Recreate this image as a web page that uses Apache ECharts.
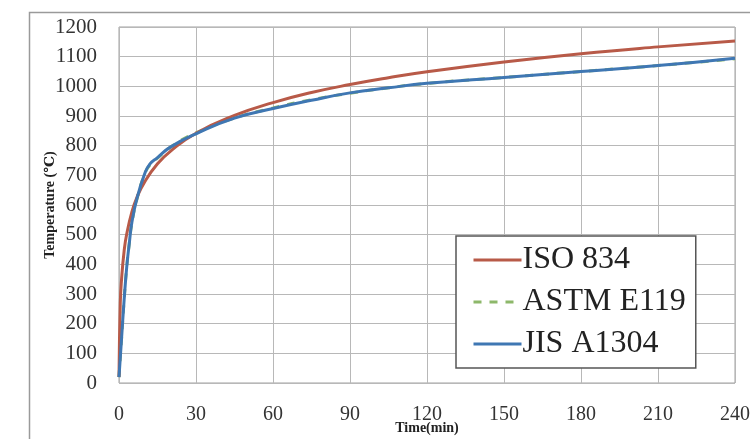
<!DOCTYPE html>
<html><head><meta charset="utf-8">
<script src="https://cdn.jsdelivr.net/npm/echarts@6/dist/echarts.min.js"></script>
<style>html,body{margin:0;padding:0;background:#fff}#c{width:750px;height:439px}</style>
</head><body><div id="c"></div>
<script>
const seriesNames = ['ISO 834', 'ASTM E119', 'JIS A1304'];
const xTicks = [0, 30, 60, 90, 120, 150, 180, 210, 240];
const yTicks = [0, 100, 200, 300, 400, 500, 600, 700, 800, 900, 1000, 1100, 1200];
// time (min), temperature (°C)
const isoTime = [0, 0.5, 1, 2, 3, 5, 7, 10, 15, 20, 30, 45, 60, 75, 90, 105, 120, 150, 180, 210, 240];
const isoTemp = [20, 270, 350, 445, 502, 576, 626, 678, 739, 781, 842, 902, 945, 979, 1006, 1029, 1049, 1082, 1110, 1133, 1153];
const astmTime = [0, 1, 2, 3, 4, 5, 7, 10, 12, 15, 20, 30, 45, 60, 75, 90, 105, 120, 150, 180, 210, 240];
const astmTemp = [20, 150, 280, 390, 470, 538, 620, 704, 735, 758, 795, 843, 893, 927, 955, 977, 995, 1010, 1030, 1050, 1070, 1093];
const jisTime = [0, 1, 2, 3, 4, 5, 7, 10, 12, 15, 20, 30, 45, 60, 75, 90, 105, 120, 150, 180, 210, 240];
const jisTemp = [20, 150, 280, 390, 470, 540, 622, 705, 738, 760, 795, 840, 893, 925, 953, 978, 995, 1010, 1030, 1050, 1070, 1095];

const zip = (a, b) => a.map((v, i) => [v, b[i]]);
const serif = '"Liberation Serif", "DejaVu Serif", serif';
const chart = echarts.init(document.getElementById('c'));
chart.setOption({
  animation: false,
  backgroundColor: '#fff',
  graphic: [{
    type: 'rect', left: 27, top: 10, silent: true,
    shape: { width: 740, height: 440 },
    style: { fill: 'none', stroke: '#9a9a9a', lineWidth: 1.5 }
  }],
  grid: { left: 119, right: 15, top: 27, bottom: 56, show: true, borderColor: '#a0a0a0', borderWidth: 1,
    containLabel: false, outerBoundsMode: 'none' },
  legend: {
    orient: 'vertical', left: 456, top: 236, width: 250, height: 134,
    backgroundColor: '#fff', borderColor: '#555', borderWidth: 1.5,
    padding: [8, 10, 8, 16], itemGap: 10, itemWidth: 48, itemHeight: 30,
    itemStyle: { opacity: 0 },
    lineStyle: { width: 3 },
    textStyle: { fontFamily: serif, fontSize: 32, color: '#222', padding: [0, 0, 0, -4] },
    data: seriesNames
  },
  xAxis: {
    type: 'value', min: 0, max: 240, interval: 30,
    name: 'Time(min)', nameLocation: 'middle', nameGap: 38, nameMoveOverlap: false,
    nameTextStyle: { fontFamily: serif, fontSize: 14, fontWeight: 'bold', color: '#222' },
    axisLine: { show: false }, axisTick: { show: false },
    axisLabel: { fontFamily: serif, fontSize: 20, color: '#333', margin: 22,
      formatter: v => xTicks.includes(v) ? String(v) : '' },
    splitLine: { show: true, lineStyle: { color: '#b8b8b8', width: 1 } }
  },
  yAxis: {
    type: 'value', min: 0, max: 1200, interval: 100,
    name: 'Temperature (℃)', nameLocation: 'middle', nameGap: 62, nameRotate: 90, nameMoveOverlap: false,
    nameTextStyle: { fontFamily: serif, fontSize: 14, fontWeight: 'bold', color: '#222' },
    axisLine: { show: false }, axisTick: { show: false },
    axisLabel: { fontFamily: serif, fontSize: 21, color: '#333', margin: 22,
      formatter: v => yTicks.includes(v) ? String(v) : '' },
    splitLine: { show: true, lineStyle: { color: '#b8b8b8', width: 1 } }
  },
  series: [
    { name: seriesNames[1], type: 'line', data: zip(astmTime, astmTemp), symbol: 'none', smooth: true, z: 1,
      itemStyle: { color: '#8db86a' }, lineStyle: { color: '#8db86a', width: 3, type: [8, 8] } },
    { name: seriesNames[0], type: 'line', data: zip(isoTime, isoTemp), symbol: 'none', smooth: true, z: 2,
      itemStyle: { color: '#b85a48' }, lineStyle: { color: '#b85a48', width: 3 } },
    { name: seriesNames[2], type: 'line', data: zip(jisTime, jisTemp), symbol: 'none', smooth: true, z: 3,
      itemStyle: { color: '#3f77b3' }, lineStyle: { color: '#3f77b3', width: 3 } }
  ]
});
</script></body></html>
